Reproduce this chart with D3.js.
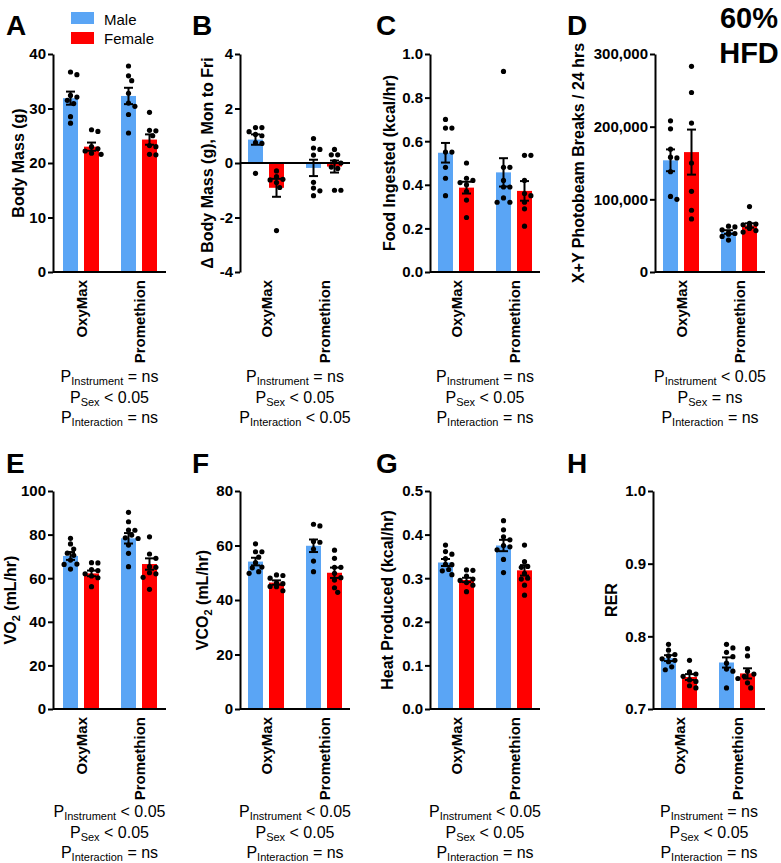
<!DOCTYPE html>
<html><head><meta charset="utf-8">
<script src="https://cdn.jsdelivr.net/npm/d3@7"></script>
<style>
body{margin:0;background:#fff;}
svg text{font-family:"Liberation Sans",Arial,sans-serif;fill:#000;}
</style></head><body>
<svg id="c" width="781" height="863"></svg>
<script>
// ---------- DATA ----------
const instruments = ["OxyMax", "Promethion"];
const sexes = ["Male", "Female"];
const sexColors = ["#5AA5F5", "#FF0000"];
// group order in every array: OxyMax-Male, OxyMax-Female, Promethion-Male, Promethion-Female

const bodyMassMean = [31.9, 23.0, 32.3, 24.3];
const bodyMassSem = [1.2, 0.75, 1.5, 0.95];
const bodyMassPoints = [
  [36.7, 36.2, 32.4, 32.1, 31.5, 30.9, 28.5, 27.3],
  [25.8, 26.1, 23.0, 22.6, 22.2, 21.8, 21.6],
  [37.8, 36.0, 35.1, 32.8, 31.0, 30.4, 28.9, 25.5],
  [29.3, 26.0, 25.9, 25.0, 23.2, 23.0, 21.6, 21.5]
];

const deltaMassMean = [0.86, -0.91, -0.18, -0.13];
const deltaMassSem = [0.19, 0.33, 0.30, 0.22];
const deltaMassPoints = [
  [1.3, 1.3, 1.15, 1.05, 1.0, 0.75, 0.72, -0.38],
  [-0.29, -0.5, -0.6, -0.62, -0.72, -0.9, -2.48],
  [0.9, 0.55, 0.5, 0.29, -0.71, -0.92, -1.02, -1.2],
  [0.5, 0.3, 0.3, 0.05, 0.0, -0.15, -0.2, -1.0, -1.0]
];

const foodMean = [0.547, 0.387, 0.457, 0.372];
const foodSem = [0.045, 0.027, 0.065, 0.045];
const foodPoints = [
  [0.70, 0.66, 0.66, 0.55, 0.55, 0.48, 0.43, 0.35],
  [0.50, 0.43, 0.42, 0.41, 0.40, 0.37, 0.33, 0.25],
  [0.92, 0.48, 0.48, 0.42, 0.39, 0.39, 0.34, 0.32, 0.32],
  [0.535, 0.535, 0.42, 0.36, 0.35, 0.32, 0.29, 0.21]
];

const beamMean = [153700, 165000, 55000, 64000];
const beamSem = [15000, 31000, 2500, 3000];
const beamPoints = [
  [208000, 197000, 169000, 158000, 157000, 138000, 104000, 100000],
  [283000, 247000, 205000, 150000, 111000, 85000, 73000],
  [63000, 62000, 58000, 54000, 53000, 52000, 49000, 44000],
  [90000, 67000, 66000, 65000, 64000, 63000, 60000, 57000, 55000]
];

const vo2Mean = [70.2, 62.2, 78.3, 66.5];
const vo2Sem = [1.8, 1.3, 2.4, 2.6];
const vo2Points = [
  [78.3, 75.7, 73.4, 71.5, 70.5, 68.3, 66.5, 66.3, 64.2],
  [67.1, 67.0, 64.0, 63.5, 62.0, 61.0, 60.2, 56.1],
  [90.2, 85.9, 82.1, 82.0, 79.8, 78.5, 78.2, 75.2, 71.4, 65.3],
  [79.0, 71.1, 69.1, 65.3, 65.0, 62.5, 62.0, 60.4, 54.9]
];

const vco2Mean = [54.1, 46.4, 59.9, 50.0];
const vco2Sem = [1.4, 0.8, 2.3, 1.9];
const vco2Points = [
  [60.6, 57.7, 57.7, 55.7, 53.7, 52.1, 51.8, 50.4, 49.8],
  [49.2, 49.0, 48.0, 46.3, 46.0, 45.0, 44.9, 43.4],
  [67.8, 67.2, 61.5, 61.2, 58.7, 54.3, 50.4],
  [58.3, 55.3, 52.0, 52.0, 49.8, 48.2, 47.3, 44.5, 42.8]
];

const heatMean = [0.336, 0.296, 0.375, 0.318];
const heatSem = [0.008, 0.005, 0.013, 0.012];
const heatPoints = [
  [0.376, 0.361, 0.355, 0.345, 0.332, 0.331, 0.320, 0.317, 0.308],
  [0.319, 0.318, 0.305, 0.298, 0.295, 0.290, 0.284, 0.269],
  [0.432, 0.411, 0.395, 0.388, 0.375, 0.372, 0.365, 0.343, 0.313],
  [0.376, 0.338, 0.327, 0.325, 0.311, 0.300, 0.298, 0.284, 0.261]
];

const rerMean = [0.770, 0.744, 0.764, 0.749];
const rerSem = [0.004, 0.004, 0.007, 0.007];
const rerPoints = [
  [0.789, 0.781, 0.775, 0.773, 0.769, 0.767, 0.765, 0.758, 0.754],
  [0.767, 0.751, 0.748, 0.745, 0.740, 0.738, 0.732, 0.729],
  [0.789, 0.784, 0.778, 0.772, 0.763, 0.755, 0.752, 0.729],
  [0.783, 0.773, 0.752, 0.748, 0.745, 0.742, 0.736, 0.729]
];

// tick labels
const ticksA = [0, 10, 20, 30, 40];
const ticksB = [-4, -2, 0, 2, 4];
const ticksC = [0, 0.2, 0.4, 0.6, 0.8, 1.0];
const ticksD = [0, 100000, 200000, 300000];
const ticksE = [0, 20, 40, 60, 80, 100];
const ticksF = [0, 20, 40, 60, 80];
const ticksG = [0, 0.1, 0.2, 0.3, 0.4, 0.5];
const ticksH = [0.7, 0.8, 0.9, 1.0];

// statistics text: [Instrument, Sex, Interaction]
const statTerms = ["Instrument", "Sex", "Interaction"];
const statsA = ["= ns", "< 0.05", "= ns"];
const statsB = ["= ns", "< 0.05", "< 0.05"];
const statsC = ["= ns", "< 0.05", "= ns"];
const statsD = ["< 0.05", "= ns", "= ns"];
const statsE = ["< 0.05", "< 0.05", "= ns"];
const statsF = ["< 0.05", "< 0.05", "= ns"];
const statsG = ["< 0.05", "< 0.05", "= ns"];
const statsH = ["= ns", "< 0.05", "= ns"];

// ---------- LAYOUT ----------
const hy = v => String(v).replace("\u2212", "-");
const fInt = v => hy(d3.format("d")(v));
const f1 = v => d3.format(".1f")(v);
const fComma = v => d3.format(",")(v);

const panels = [
  {L:"A", m:bodyMassMean, s:bodyMassSem, p:bodyMassPoints, dom:[0,40], base:0, ticks:ticksA, fmt:fInt, title:[["Body Mass (g)"]], x0:53, W:113, g:28, top:54, bot:272, tx:18, lx:6, ly:35, st:statsA, sy:110},
  {L:"B", m:deltaMassMean, s:deltaMassSem, p:deltaMassPoints, dom:[-4,4], base:0, ticks:ticksB, fmt:fInt, title:[["\u0394 Body Mass (g), Mon to Fri"]], x0:240, W:110, g:26, top:54, bot:272, tx:207, lx:192, ly:35, st:statsB, sy:110},
  {L:"C", m:foodMean, s:foodSem, p:foodPoints, dom:[0,1], base:0, ticks:ticksC, fmt:f1, title:[["Food Ingested (kcal/hr)"]], x0:430, W:110, g:26, top:54, bot:272, tx:389, lx:376, ly:35, st:statsC, sy:110},
  {L:"D", m:beamMean, s:beamSem, p:beamPoints, dom:[0,300000], base:0, ticks:ticksD, fmt:fComma, title:[["X+Y Photobeam Breaks / 24 hrs"]], x0:655, W:110, g:26, top:54, bot:272, tx:578, lx:567, ly:35, st:statsD, sy:110},
  {L:"E", m:vo2Mean, s:vo2Sem, p:vo2Points, dom:[0,100], base:0, ticks:ticksE, fmt:fInt, title:[["VO"],["2","sub"],[" (mL/hr)"]], x0:53, W:113, g:28, top:491, bot:709, tx:10, lx:6, ly:473, st:statsE, sy:108},
  {L:"F", m:vco2Mean, s:vco2Sem, p:vco2Points, dom:[0,80], base:0, ticks:ticksF, fmt:fInt, title:[["VCO"],["2","sub"],[" (mL/hr)"]], x0:240, W:110, g:26, top:491, bot:709, tx:202, lx:192, ly:473, st:statsF, sy:108},
  {L:"G", m:heatMean, s:heatSem, p:heatPoints, dom:[0,0.5], base:0, ticks:ticksG, fmt:f1, title:[["Heat Produced (kcal/hr)"]], x0:430, W:110, g:26, top:491, bot:709, tx:387, lx:376, ly:473, st:statsG, sy:108},
  {L:"H", m:rerMean, s:rerSem, p:rerPoints, dom:[0.7,1.0], base:0.7, ticks:ticksH, fmt:f1, title:[["RER"]], x0:653, W:112, g:26, top:491, bot:709, tx:611, lx:567, ly:473, st:statsH, sy:108}
];

const svg = d3.select("#c");
svg.append("rect").attr("width",781).attr("height",863).attr("fill","#fff");

const sexScale = d3.scaleBand().domain(sexes).range([-18, 18]).paddingInner(6/21);
const R = 2.6;

function dodge(vals, y) {
  // deterministic beeswarm offsets
  const order = vals.map((v,i)=>i).sort((a,b)=>vals[b]-vals[a]);
  const placed = [];
  const off = new Array(vals.length).fill(0);
  const cands = [0, 3.2, -3.2, 6.4, -6.4, 9.6, -9.6];
  order.forEach(i => {
    const py = y(vals[i]);
    let chosen = 0;
    for (const c of cands) {
      const ok = placed.every(q => (q.x-c)*(q.x-c) + (q.y-py)*(q.y-py) >= (2*R+0.4)*(2*R+0.4));
      if (ok) { chosen = c; break; }
    }
    off[i] = chosen;
    placed.push({x:chosen, y:py});
  });
  return off;
}

panels.forEach(P => {
  const g = svg.append("g");
  const y = d3.scaleLinear().domain(P.dom).range([P.bot, P.top]);
  const x = d3.scalePoint().domain(instruments).range([P.x0 + P.g, P.x0 + P.g + 58]);

  const groups = [];
  instruments.forEach((ins, ii) => sexes.forEach((sx, si) => {
    const k = ii*2 + si;
    groups.push({ins, sx, si, mean:P.m[k], sem:P.s[k], pts:P.p[k]});
  }));

  // bars
  g.selectAll("rect.bar").data(groups).join("rect")
    .attr("x", d => x(d.ins) + sexScale(d.sx))
    .attr("width", sexScale.bandwidth())
    .attr("y", d => Math.min(y(d.mean), y(P.base)))
    .attr("height", d => Math.abs(y(d.mean) - y(P.base)))
    .attr("fill", d => sexColors[d.si]);

  // points
  groups.forEach(d => {
    const cx = x(d.ins) + sexScale(d.sx) + sexScale.bandwidth()/2;
    const offs = dodge(d.pts, y);
    g.selectAll(null).data(d.pts).join("circle")
      .attr("cx", (v,i) => cx + offs[i])
      .attr("cy", v => y(v))
      .attr("r", R)
      .attr("fill", "#000");
  });

  // error bars
  groups.forEach(d => {
    const cx = x(d.ins) + sexScale(d.sx) + sexScale.bandwidth()/2;
    const y1 = y(d.mean + d.sem), y2 = y(d.mean - d.sem);
    g.append("line").attr("x1",cx).attr("x2",cx).attr("y1",y1).attr("y2",y2).attr("stroke","#000").attr("stroke-width",2);
    [y1,y2].forEach(yy => g.append("line").attr("x1",cx-4.5).attr("x2",cx+4.5).attr("y1",yy).attr("y2",yy).attr("stroke","#000").attr("stroke-width",2));
  });

  // y axis
  const ax = g.append("g").attr("transform", `translate(${P.x0},0)`)
    .call(d3.axisLeft(y).tickValues(P.ticks).tickFormat(P.fmt).tickSize(5).tickSizeOuter(0).tickPadding(2));
  ax.select(".domain").attr("stroke","#000").attr("stroke-width",2);
  ax.selectAll(".tick line").attr("stroke","#000").attr("stroke-width",2);
  ax.selectAll(".tick text").attr("font-size",15).attr("font-weight","bold").attr("fill","#000")
    .style("font-family","'Liberation Sans',Arial,sans-serif");

  // x axis line at baseline
  g.append("line").attr("x1",P.x0).attr("x2",P.x0+P.W).attr("y1",y(P.base)).attr("y2",y(P.base))
    .attr("stroke","#000").attr("stroke-width",2);

  // category labels
  instruments.forEach(ins => {
    g.append("text")
      .attr("transform", `translate(${x(ins)},${P.bot+8}) rotate(-90)`)
      .attr("text-anchor","end").attr("dominant-baseline","central")
      .attr("font-size",15).attr("font-weight","bold").text(ins);
  });

  // y title
  const t = g.append("text")
    .attr("transform", `translate(${P.tx},${(P.top+P.bot)/2}) rotate(-90)`)
    .attr("text-anchor","middle").attr("font-size",16).attr("font-weight","bold");
  P.title.forEach(([s, kind]) => {
    if (kind === "sub") t.append("tspan").attr("dy",4).attr("font-size",11).text(s);
    else { const ts = t.append("tspan").text(s); if (t.selectAll("tspan").size() > 1) ts.attr("dy",-4); }
  });
  t.select("tspan").attr("dy","0.35em");

  // panel letter
  g.append("text").attr("x",P.lx).attr("y",P.ly).attr("font-size",28).attr("font-weight","bold").text(P.L);

  // stats text
  const cx = P.x0 + P.W/2;
  P.st.forEach((sv, i) => {
    const tt = g.append("text").attr("x",cx).attr("y",P.bot + P.sy + i*20.5)
      .attr("text-anchor","middle").attr("font-size",16);
    tt.append("tspan").text("P");
    tt.append("tspan").attr("dy",3).attr("font-size",11).text(statTerms[i]);
    tt.append("tspan").attr("dy",-3).text(" " + sv);
  });
});

// legend
const leg = svg.append("g");
sexes.forEach((s, i) => {
  leg.append("rect").attr("x",71).attr("y",[12,32][i]).attr("width",23).attr("height",12).attr("fill",sexColors[i]);
  leg.append("text").attr("x",104).attr("y",[25,44][i]).attr("font-size",15).text(s);
});

// diet label
svg.append("text").attr("x",749).attr("y",28).attr("text-anchor","middle").attr("font-size",29).attr("font-weight","bold").text("60%");
svg.append("text").attr("x",749).attr("y",63).attr("text-anchor","middle").attr("font-size",29).attr("font-weight","bold").text("HFD");
</script>
</body></html>
